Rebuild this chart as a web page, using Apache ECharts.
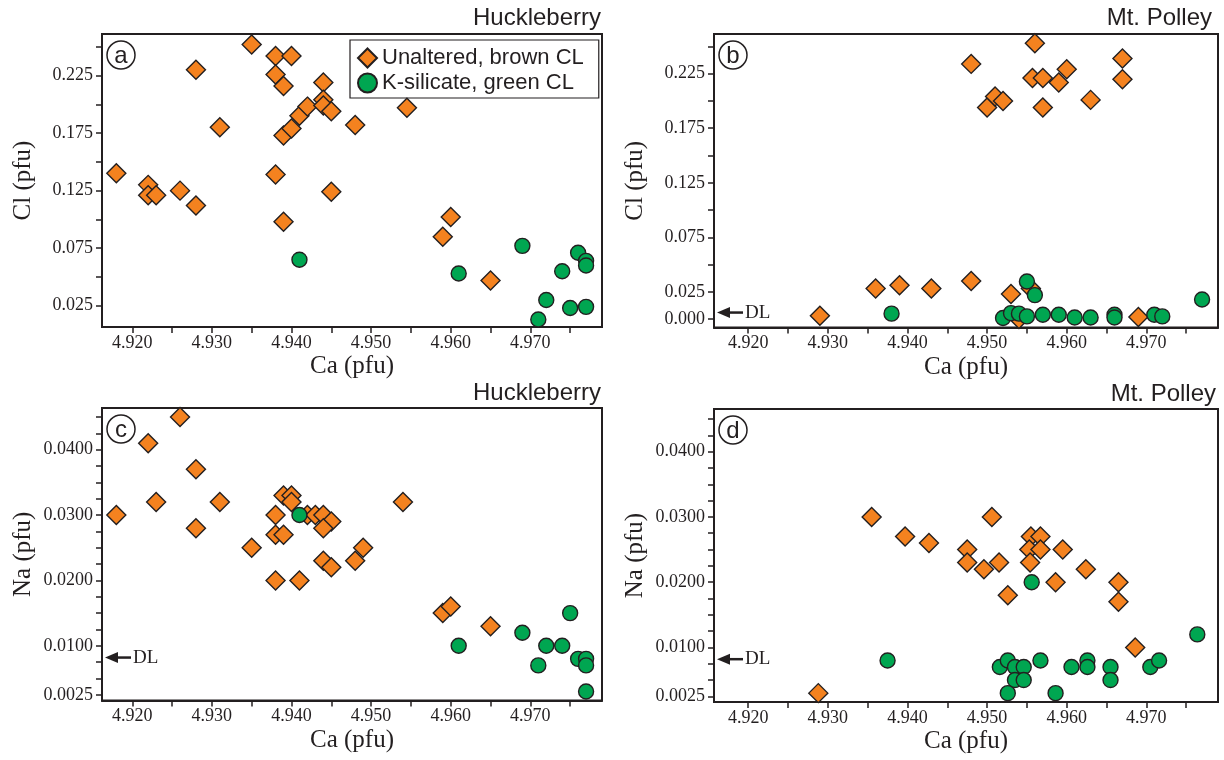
<!DOCTYPE html>
<html>
<head>
<meta charset="utf-8">
<script src="https://cdn.jsdelivr.net/npm/echarts@6/dist/echarts.min.js"></script>
<style>
  html, body { margin: 0; padding: 0; background: #fff; }
  #chart { width: 1224px; height: 760px; }
</style>
</head>
<body>
<div id="chart"></div>
<script>
const INK = '#231f20';
const ORANGE = '#f4821f';
const GREEN = '#00a651';
const SERIF = 'Liberation Serif';
const SANS = 'Liberation Sans';

const seriesNames = ['Unaltered, brown CL', 'K-silicate, green CL'];
const panelLetters = ['a', 'b', 'c', 'd'];
const panelSites = ['Huckleberry', 'Mt. Polley', 'Huckleberry', 'Mt. Polley'];

// (a) Huckleberry, Ca vs Cl
const hbClBrown = [
  [4.918, 0.140], [4.922, 0.130], [4.922, 0.121], [4.923, 0.121], [4.926, 0.125],
  [4.928, 0.112], [4.928, 0.230], [4.931, 0.180], [4.935, 0.252], [4.938, 0.242],
  [4.940, 0.242], [4.938, 0.226], [4.939, 0.216], [4.938, 0.139], [4.939, 0.098],
  [4.939, 0.173], [4.940, 0.179], [4.941, 0.190], [4.942, 0.198], [4.944, 0.219],
  [4.944, 0.204], [4.944, 0.199], [4.945, 0.194], [4.948, 0.182], [4.9545, 0.197],
  [4.945, 0.124], [4.959, 0.085], [4.960, 0.102], [4.965, 0.047]
];
const hbClGreen = [
  [4.941, 0.065], [4.961, 0.053], [4.969, 0.077], [4.971, 0.013], [4.972, 0.030],
  [4.974, 0.055], [4.975, 0.023], [4.976, 0.071], [4.977, 0.064], [4.977, 0.060],
  [4.977, 0.024]
];

// (b) Mt. Polley, Ca vs Cl
const mpClBrown = [
  [4.948, 0.234], [4.956, 0.253], [4.9557, 0.221], [4.957, 0.221], [4.959, 0.217],
  [4.960, 0.229], [4.967, 0.239], [4.967, 0.220], [4.963, 0.201], [4.957, 0.194],
  [4.950, 0.194], [4.951, 0.204], [4.952, 0.200], [4.929, 0.003], [4.936, 0.028],
  [4.939, 0.031], [4.943, 0.028], [4.948, 0.035], [4.953, 0.023], [4.9555, 0.028],
  [4.954, 0.000], [4.969, 0.002]
];
const mpClGreen = [
  [4.938, 0.005], [4.952, 0.001], [4.953, 0.0055], [4.954, 0.005], [4.955, 0.0025],
  [4.955, 0.0345], [4.956, 0.022], [4.957, 0.004], [4.959, 0.004], [4.961, 0.0015],
  [4.963, 0.0015], [4.966, 0.004], [4.966, 0.0015], [4.971, 0.004], [4.972, 0.0025],
  [4.977, 0.018]
];

// (c) Huckleberry, Ca vs Na
const hbNaBrown = [
  [4.918, 0.030], [4.922, 0.041], [4.926, 0.045], [4.923, 0.032], [4.928, 0.037],
  [4.928, 0.028], [4.931, 0.032], [4.935, 0.025], [4.938, 0.030], [4.938, 0.027],
  [4.939, 0.027], [4.939, 0.033], [4.940, 0.033], [4.940, 0.032], [4.942, 0.030],
  [4.943, 0.030], [4.944, 0.030], [4.945, 0.029], [4.944, 0.028], [4.944, 0.023],
  [4.945, 0.022], [4.948, 0.023], [4.949, 0.025], [4.954, 0.032], [4.938, 0.020],
  [4.941, 0.020], [4.959, 0.015], [4.960, 0.016], [4.965, 0.013]
];
const hbNaGreen = [
  [4.941, 0.030], [4.961, 0.010], [4.969, 0.012], [4.971, 0.007], [4.972, 0.010],
  [4.974, 0.010], [4.975, 0.015], [4.976, 0.008], [4.977, 0.008], [4.977, 0.007],
  [4.977, 0.003]
];

// (d) Mt. Polley, Ca vs Na
const mpNaBrown = [
  [4.9355, 0.030], [4.9397, 0.027], [4.9427, 0.026], [4.9475, 0.025], [4.9506, 0.030],
  [4.9555, 0.027], [4.9567, 0.027], [4.9553, 0.025], [4.9567, 0.025], [4.9595, 0.025],
  [4.9475, 0.023], [4.9496, 0.022], [4.9515, 0.023], [4.9554, 0.023], [4.9624, 0.022],
  [4.9526, 0.018], [4.9586, 0.020], [4.9665, 0.020], [4.9665, 0.017], [4.9686, 0.010],
  [4.9288, 0.003]
];
const mpNaGreen = [
  [4.9375, 0.008], [4.9516, 0.007], [4.9526, 0.008], [4.9535, 0.007], [4.9546, 0.007],
  [4.9535, 0.005], [4.9546, 0.005], [4.9526, 0.003], [4.9556, 0.020], [4.9567, 0.008],
  [4.9586, 0.003], [4.9606, 0.007], [4.9626, 0.008], [4.9626, 0.007], [4.9655, 0.007],
  [4.9655, 0.005], [4.9705, 0.007], [4.9716, 0.008], [4.9764, 0.012]
];

// axis ticks / labels
const caTicks = [4.920, 4.925, 4.930, 4.935, 4.940, 4.945, 4.950, 4.955, 4.960, 4.965, 4.970, 4.975];
const caLabels = [4.920, 4.930, 4.940, 4.950, 4.960, 4.970];
const clTicks = [0, 0.025, 0.05, 0.075, 0.1, 0.125, 0.15, 0.175, 0.2, 0.225, 0.25];
const clLabelsHb = [0.025, 0.075, 0.125, 0.175, 0.225];
const clLabelsMp = [0, 0.025, 0.075, 0.125, 0.175, 0.225];
const naTicks = [0.0025, 0.005, 0.0075, 0.01, 0.0125, 0.015, 0.0175, 0.02, 0.0225, 0.025,
  0.0275, 0.03, 0.0325, 0.035, 0.0375, 0.04, 0.0425, 0.045];
const naLabels = [0.0025, 0.01, 0.02, 0.03, 0.04];

// detection limits (panels b, c, d)
const dlCl = 0.006;
const dlNa = 0.0082;

const panels = [
  { grid: { left: 102, top: 34, width: 500, height: 293 }, x: [4.9162, 4.979], y: [0.0065, 0.2611],
    yName: 'Cl (pfu)', yTicks: clTicks, yLabels: clLabelsHb, yDigits: 3, data: [hbClBrown, hbClGreen], dl: null, titleRight: 623, titleTop: 6 },
  { grid: { left: 714, top: 34, width: 504, height: 293.5 }, x: [4.9157, 4.979], y: [-0.0077, 0.2614],
    yName: 'Cl (pfu)', yTicks: clTicks, yLabels: clLabelsMp, yDigits: 3, data: [mpClBrown, mpClGreen], dl: dlCl, titleRight: 12, titleTop: 6 },
  { grid: { left: 102, top: 408, width: 500, height: 292.5 }, x: [4.9162, 4.979], y: [0.00163, 0.04638],
    yName: 'Na (pfu)', yTicks: naTicks, yLabels: naLabels, yDigits: 4, data: [hbNaBrown, hbNaGreen], dl: dlNa, titleRight: 623, titleTop: 381 },
  { grid: { left: 714, top: 409, width: 504, height: 293 }, x: [4.9157, 4.979], y: [0.00164, 0.04654],
    yName: 'Na (pfu)', yTicks: naTicks, yLabels: naLabels, yDigits: 4, data: [mpNaBrown, mpNaGreen], dl: dlNa, titleRight: 8, titleTop: 382 }
];

const chart = echarts.init(document.getElementById('chart'), null, { renderer: 'canvas' });

const axisLineStyle = { color: INK, width: 2 };

const option = {
  animation: false,
  backgroundColor: '#fff',
  title: panels.map((p, i) => ({
    text: panelSites[i], right: p.titleRight, top: p.titleTop, padding: 0,
    textStyle: { fontFamily: SANS, fontSize: 24, fontWeight: 'normal', color: INK }
  })),
  legend: {
    left: 350, top: 40, orient: 'vertical',
    data: [{ name: seriesNames[0], icon: 'diamond' }, { name: seriesNames[1], icon: 'circle' }],
    itemWidth: 19, itemHeight: 19, itemGap: 3,
    padding: [7, 15, 4, 7],
    borderColor: INK, borderWidth: 1.2,
    selectedMode: false,
    textStyle: { fontFamily: SANS, fontSize: 22, color: INK }
  },
  grid: panels.map(p => Object.assign({
    show: true, borderColor: INK, borderWidth: 2, backgroundColor: 'transparent',
    containLabel: false, outerBoundsMode: 'none'
  }, p.grid)),
  xAxis: panels.map((p, i) => ({
    type: 'value', gridIndex: i, min: p.x[0], max: p.x[1],
    name: 'Ca (pfu)', nameLocation: 'middle', nameGap: 27,
    nameTextStyle: { fontFamily: SERIF, fontSize: 25, color: INK },
    axisLine: { show: true, onZero: false, lineStyle: axisLineStyle },
    axisTick: { show: true, length: 6, customValues: caTicks, lineStyle: { color: INK, width: 1.5 } },
    axisLabel: { show: true, customValues: caLabels, margin: 7, formatter: v => v.toFixed(3),
      fontFamily: SERIF, fontSize: 18, color: INK },
    splitLine: { show: false }
  })),
  yAxis: panels.map((p, i) => ({
    type: 'value', gridIndex: i, min: p.y[0], max: p.y[1],
    name: p.yName, nameLocation: 'middle', nameGap: 66,
    nameTextStyle: { fontFamily: SERIF, fontSize: 25, color: INK },
    axisLine: { show: true, onZero: false, lineStyle: axisLineStyle },
    axisTick: { show: true, length: 6, customValues: p.yTicks, lineStyle: { color: INK, width: 1.5 } },
    axisLabel: { show: true, customValues: p.yLabels, margin: 9, formatter: v => v.toFixed(p.yDigits),
      fontFamily: SERIF, fontSize: 18, color: INK },
    splitLine: { show: false }
  })),
  series: []
};

panels.forEach((p, i) => {
  option.series.push({
    name: seriesNames[0], type: 'scatter', xAxisIndex: i, yAxisIndex: i,
    symbol: 'diamond', symbolSize: 19, data: p.data[0],
    itemStyle: { color: ORANGE, borderColor: INK, borderWidth: 1.4, opacity: 1 },
    emphasis: { disabled: true }
  });
});
panels.forEach((p, i) => {
  option.series.push({
    name: seriesNames[1], type: 'scatter', xAxisIndex: i, yAxisIndex: i,
    symbol: 'circle', symbolSize: 15, data: p.data[1],
    itemStyle: { color: GREEN, borderColor: INK, borderWidth: 1.4, opacity: 1 },
    emphasis: { disabled: true }
  });
});

chart.setOption(option);

// panel letters and detection-limit arrows
const graphics = [];
panels.forEach((p, i) => {
  const cx = p.grid.left + 19;
  const cy = p.grid.top + 21;
  graphics.push({
    type: 'circle', shape: { cx: cx, cy: cy, r: 14 },
    style: { fill: '#fff', stroke: INK, lineWidth: 1.5 }, z: 10
  });
  graphics.push({
    type: 'text', x: cx, y: cy + 1, z: 11,
    style: { text: panelLetters[i], fontFamily: SANS, fontSize: 24, fill: INK, align: 'center', verticalAlign: 'middle' }
  });
  if (p.dl !== null) {
    const pt = chart.convertToPixel({ gridIndex: i }, [p.x[0], p.dl]);
    const tx = pt[0] + 3;
    const ty = pt[1];
    graphics.push({
      type: 'polygon', z: 10,
      shape: { points: [[tx, ty], [tx + 13, ty - 5.5], [tx + 13, ty + 5.5]] },
      style: { fill: INK }
    });
    graphics.push({
      type: 'line', z: 10,
      shape: { x1: tx + 10, y1: ty, x2: tx + 26, y2: ty },
      style: { stroke: INK, lineWidth: 2.5 }
    });
    graphics.push({
      type: 'text', x: tx + 28, y: ty, z: 10,
      style: { text: 'DL', fontFamily: SERIF, fontSize: 19, fill: INK, verticalAlign: 'middle' }
    });
  }
});
chart.setOption({ graphic: graphics });
</script>
</body>
</html>
